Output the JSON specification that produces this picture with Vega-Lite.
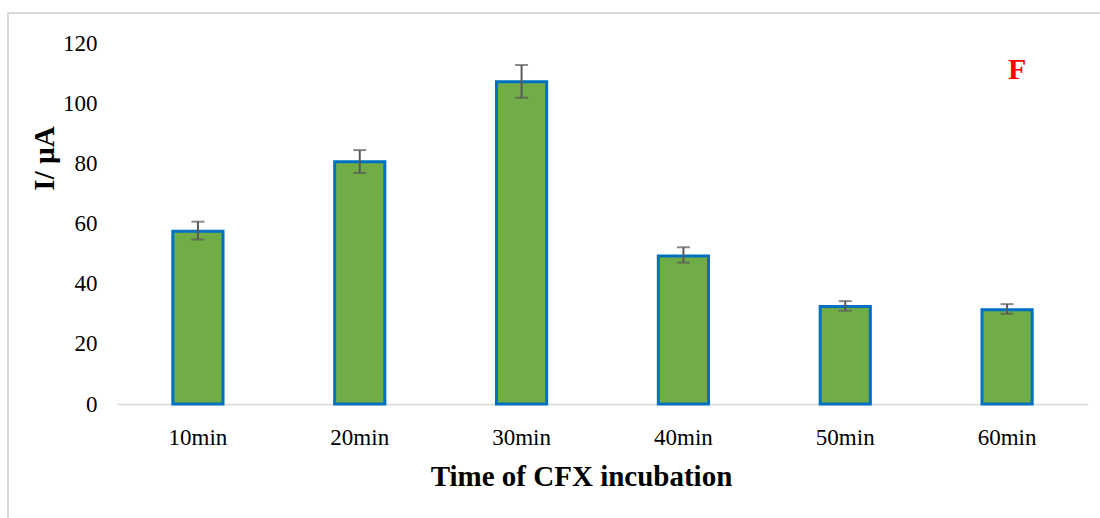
{
  "$schema": "https://vega.github.io/schema/vega-lite/v6.json",
  "width": 1094,
  "height": 507,
  "autosize": {"type": "none"},
  "padding": {"left": 8, "top": 13, "right": 0, "bottom": 0},
  "background": "white",
  "config": {
    "view": {"stroke": "#d9d9d9", "strokeWidth": 2},
    "font": "Liberation Serif",
    "axis": {
      "labelFont": "Liberation Serif", "labelFontSize": 23, "labelColor": "#000000",
      "titleFont": "Liberation Serif", "titleFontSize": 29, "titleFontWeight": "bold", "titleColor": "#000000",
      "ticks": false, "grid": false
    }
  },
  "data": {
    "values": [
      {"time": "10min", "value": 57.4, "lo": 54.7, "hi": 60.6},
      {"time": "20min", "value": 80.5, "lo": 76.8, "hi": 84.4},
      {"time": "30min", "value": 107.1, "lo": 101.8, "hi": 112.7},
      {"time": "40min", "value": 49.2, "lo": 47.0, "hi": 52.1},
      {"time": "50min", "value": 32.4, "lo": 31.0, "hi": 34.2},
      {"time": "60min", "value": 31.3, "lo": 30.0, "hi": 33.2}
    ]
  },
  "layer": [
    {
      "mark": {"type": "bar", "fill": "#70ad47", "stroke": "#0070c0", "strokeWidth": 3, "width": {"band": 0.31}},
      "encoding": {
        "x": {
          "field": "time", "type": "nominal", "sort": null,
          "scale": {"range": [109, 1080], "paddingInner": 0, "paddingOuter": 0},
          "axis": {
            "title": "Time of CFX incubation",
            "labelAngle": 0,
            "labelFont": "Liberation Serif", "labelFontSize": 23, "labelColor": "#000000",
            "labelPadding": 22,
            "ticks": false,
            "domainColor": "#d9d9d9", "domainWidth": 1.5,
            "offset": -116,
            "titleFont": "Liberation Serif", "titleFontSize": 29, "titleFontWeight": "bold", "titleColor": "#000000",
            "titleX": 573, "titleY": 81, "titleBaseline": "alphabetic", "titleAlign": "center"
          }
        },
        "y": {
          "field": "value", "type": "quantitative",
          "scale": {"domain": [0, 120], "range": [391, 30], "nice": false, "zero": true},
          "axis": {
            "values": [0, 20, 40, 60, 80, 100, 120],
            "grid": false, "domain": false, "ticks": false,
            "labelFont": "Liberation Serif", "labelFontSize": 23, "labelColor": "#000000",
            "labelPadding": 21,
            "offset": -110,
            "title": "I/ µA",
            "titleFont": "Liberation Serif", "titleFontSize": 29, "titleFontWeight": "bold", "titleColor": "#000000",
            "titleX": -65, "titleY": 145, "titleAngle": -90, "titleBaseline": "alphabetic", "titleAlign": "center"
          }
        }
      }
    },
    {
      "mark": {"type": "rule", "color": "#595959", "strokeWidth": 2},
      "encoding": {
        "x": {"field": "time", "type": "nominal", "sort": null},
        "y": {"field": "lo", "type": "quantitative"},
        "y2": {"field": "hi"}
      }
    },
    {
      "mark": {"type": "tick", "color": "#595959", "size": 13, "thickness": 2, "orient": "horizontal"},
      "encoding": {
        "x": {"field": "time", "type": "nominal", "sort": null},
        "y": {"field": "lo", "type": "quantitative"}
      }
    },
    {
      "mark": {"type": "tick", "color": "#595959", "size": 13, "thickness": 2, "orient": "horizontal"},
      "encoding": {
        "x": {"field": "time", "type": "nominal", "sort": null},
        "y": {"field": "hi", "type": "quantitative"}
      }
    },
    {
      "data": {"values": [{"time": "60min", "v": 108, "label": "F"}]},
      "mark": {"type": "text", "color": "#ff0000", "font": "Liberation Serif", "fontSize": 30, "fontWeight": "bold", "align": "center", "baseline": "alphabetic", "dx": 10},
      "encoding": {
        "x": {"field": "time", "type": "nominal", "sort": null},
        "y": {"field": "v", "type": "quantitative"},
        "text": {"field": "label"}
      }
    }
  ]
}
